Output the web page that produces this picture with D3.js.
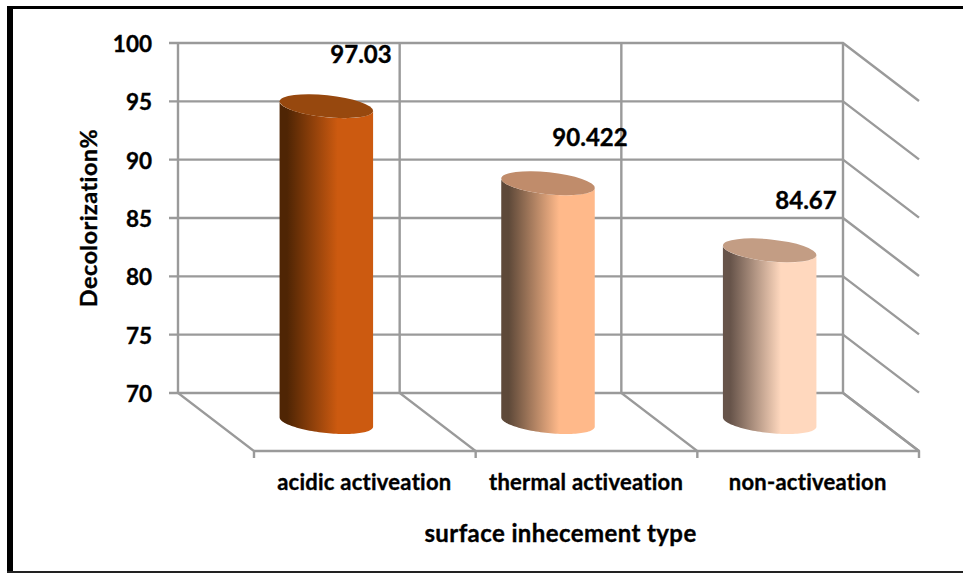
<!DOCTYPE html>
<html>
<head>
<meta charset="utf-8">
<script src="https://cdn.jsdelivr.net/npm/d3@7"></script>
<style>
  html, body { margin: 0; padding: 0; background: #fff; }
  svg { display: block; }
  text { font-family: Lato, "Open Sans", sans-serif; font-weight: 700; fill: #000; stroke: #000; stroke-width: 0.35px; }
</style>
</head>
<body>
<svg id="chart" width="963" height="573"></svg>
<script>
const categories = ["acidic activeation", "thermal activeation", "non-activeation"];
const values = [97.03, 90.422, 84.67];
const valueLabels = ["97.03", "90.422", "84.67"];
const yTicks = [70, 75, 80, 85, 90, 95, 100];
const sideColors = ["#cc5a10", "#ffb98a", "#ffd8be"];
const shadeColors = ["#4f2504", "#5e4939", "#67544a"];
const capColors = ["#97480e", "#c08c6b", "#c39d84"];
const valueLabelAnchors = [[361, 57], [590, 140], [806, 203]];

const svg = d3.select("#chart");
const wall = { left: 178, right: 843, top: 43, bottom: 393 };
const depth = { dx: 76, dy: 58 };
const gridColor = "#9a9a9a";

const x = d3.scaleBand().domain(categories).range([wall.left, wall.right]).padding(0);
const y = d3.scaleLinear().domain([70, 100]).range([wall.bottom, wall.top]);

// Heavy frame on the left and top, thin rule along the bottom
const frame = svg.append("g").attr("fill", "#000");
frame.append("rect").attr("x", 7).attr("y", 6).attr("width", 6).attr("height", 567);
frame.append("rect").attr("x", 7).attr("y", 6).attr("width", 956).attr("height", 3);
frame.append("rect").attr("x", 7).attr("y", 571).attr("width", 956).attr("height", 2).attr("fill", "#222");

const grid = svg.append("g").attr("fill", "none").attr("stroke", gridColor).attr("stroke-width", 2.4);

// Horizontal wall lines with their short tick and receding side-wall segment
yTicks.forEach(t => {
  const p = d3.path();
  p.moveTo(wall.left - 9, y(t));
  p.lineTo(wall.right, y(t));
  p.lineTo(wall.right + depth.dx, y(t) + depth.dy);
  grid.append("path").attr("d", p.toString());
});

// Vertical wall lines and floor lines at each category boundary
const bounds = categories.map(c => x(c)).concat(wall.right);
bounds.forEach(b => {
  const p = d3.path();
  p.moveTo(b, wall.top);
  p.lineTo(b, wall.bottom);
  p.lineTo(b + depth.dx, wall.bottom + depth.dy);
  p.lineTo(b + depth.dx, wall.bottom + depth.dy + 7);
  grid.append("path").attr("d", p.toString());
});

// Front edge of the floor
grid.append("line")
  .attr("x1", wall.left + depth.dx).attr("x2", wall.right + depth.dx)
  .attr("y1", wall.bottom + depth.dy).attr("y2", wall.bottom + depth.dy);

// Left-to-right shading on each cylinder
const defs = svg.append("defs");
categories.forEach((c, i) => {
  const g = defs.append("linearGradient").attr("id", "side" + i)
    .attr("x1", "0").attr("x2", "1").attr("y1", "0").attr("y2", "0");
  g.append("stop").attr("offset", "0.08").attr("stop-color", shadeColors[i]);
  g.append("stop").attr("offset", "0.62").attr("stop-color", sideColors[i]);
  g.append("stop").attr("offset", "1").attr("stop-color", sideColors[i]);
});

// Cylinders sit half way into the floor depth
const rx = 47, ry = 11, tilt = 6 * Math.PI / 180;
const point = (cx, cy, t) => [
  cx + rx * Math.cos(t) * Math.cos(tilt) - ry * Math.sin(t) * Math.sin(tilt),
  cy + rx * Math.cos(t) * Math.sin(tilt) + ry * Math.sin(t) * Math.cos(tilt)
];
const tRight = Math.atan(-(ry / rx) * Math.tan(tilt));
const line = d3.line();

const bars = svg.append("g");
categories.forEach((c, i) => {
  const cx = x(c) + x.bandwidth() / 2 + depth.dx / 2 - 0.5;
  const topY = y(values[i]) + depth.dy / 2 - 0.5;
  const baseY = y(70) + depth.dy / 2;
  // Silhouette: down the left side, round the near half of the base, up the right side
  const bottomArc = d3.range(0, 61).map(k => point(cx, baseY, tRight + Math.PI - Math.PI * k / 60));
  const topArc = d3.range(0, 61).map(k => point(cx, topY, tRight + Math.PI * k / 60));
  bars.append("path").attr("d", line(bottomArc.concat(topArc)) + "Z")
    .attr("fill", `url(#side${i})`);
  bars.append("ellipse")
    .attr("cx", cx).attr("cy", topY).attr("rx", rx).attr("ry", ry)
    .attr("transform", `rotate(${tilt * 180 / Math.PI} ${cx} ${topY})`)
    .attr("fill", capColors[i]);
});

// Value labels
svg.append("g").selectAll("text").data(values).join("text")
  .attr("x", (d, i) => valueLabelAnchors[i][0])
  .attr("y", (d, i) => valueLabelAnchors[i][1])
  .attr("text-anchor", "middle").attr("dominant-baseline", "middle")
  .attr("font-size", 24)
  .text((d, i) => valueLabels[i]);

// Y tick labels
svg.append("g").selectAll("text").data(yTicks).join("text")
  .attr("x", 152).attr("y", d => y(d) + 9)
  .attr("text-anchor", "end").attr("font-size", 22.5)
  .text(d => d);

// Category labels on the front edge of the floor
svg.append("g").selectAll("text").data(categories).join("text")
  .attr("x", c => x(c) + x.bandwidth() / 2 + depth.dx - 0.5)
  .attr("y", 490).attr("text-anchor", "middle").attr("font-size", 22)
  .attr("letter-spacing", 0.25)
  .text(c => c);

// Axis titles
svg.append("text").attr("x", 560.5).attr("y", 542).attr("text-anchor", "middle")
  .attr("font-size", 24).attr("letter-spacing", 0.4).text("surface inhecement type");
svg.append("text").attr("transform", "translate(97,218) rotate(-90)")
  .attr("text-anchor", "middle").attr("font-size", 23.5).attr("letter-spacing", 0.4).text("Decolorization%");
</script>
</body>
</html>
